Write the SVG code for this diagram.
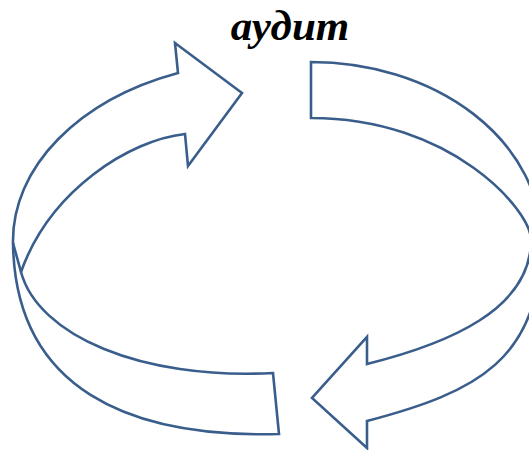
<svg xmlns="http://www.w3.org/2000/svg" width="529" height="450" viewBox="0 0 529 450">
  <style>
    .arrow { fill: #ffffff; stroke: #3A5E8C; stroke-width: 2.6; stroke-linejoin: miter; stroke-linecap: butt; }
    .edge { fill: none; stroke: #3A5E8C; stroke-width: 2.6; }
    .title { font-family: "Liberation Serif", "Times New Roman", serif; font-weight: bold; font-style: italic; font-size: 43px; fill: #000000; }
  </style>
  <rect width="529" height="450" fill="#ffffff"/>
  <g id="title">
    <text class="title" x="290" y="40" text-anchor="middle">аудит</text>
  </g>
  <g id="arrow-right">
    <path class="arrow" d="M311,62 A230,178 0 0 1 541,240 C541,360 477,392 367,421 L367,448 L312,398 L367,337 L367,364 C447,344 531,310 531,240 C531,210 451,118 311,118 Z"/>
  </g>
  <g id="arrow-left">
    <path class="arrow" d="M242,93 L175,43 L178,73 A259,180 0 0 0 13,241 C14,390 130,438 279,434 L273,373 C140,380 38,335 21,272 C50,190 130,140 185,134 L188,166 Z"/>
    <path class="edge" d="M13,243 L21,272"/>
  </g>
</svg>
